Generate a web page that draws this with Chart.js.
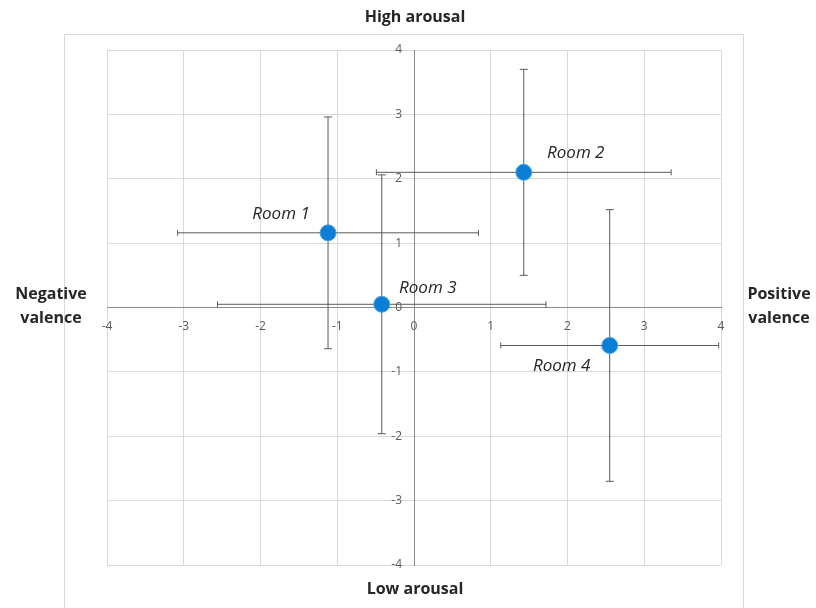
<!DOCTYPE html>
<html>
<head>
<meta charset="utf-8">
<script src="https://cdn.jsdelivr.net/npm/chart.js@4"></script>
<style>
  html, body { margin: 0; padding: 0; background: #fff; }
  #wrap { width: 816px; height: 608px; }
</style>
</head>
<body>
<div id="wrap"><canvas id="moodChart" width="816" height="608"></canvas></div>
<script>
// room means (valence, arousal) and error bar half-widths
const rooms = ['Room 1', 'Room 2', 'Room 3', 'Room 4'];
const valence = [-1.12, 1.43, -0.42, 2.55];
const arousal = [1.16, 2.10, 0.05, -0.59];
const valenceErr = [1.96, 1.92, 2.14, 1.42];
const arousalErr = [1.80, 1.60, 2.01, 2.11];
const tickValues = [-4, -3, -2, -1, 0, 1, 2, 3, 4];

// label offsets next to each point (pixels)
const labelOffsets = [[-47, -19], [52, -19], [46, -16], [-48, 21]];

const gridGrey = '#d9d9d9';
const axisGrey = '#8c8c8c';
const barGrey = '#595959';
const tickFont = '12px "Open Sans", sans-serif';

const errorBars = {
    id: 'errorBars',
    beforeDatasetsDraw(chart) {
        const ctx = chart.ctx;
        const xs = chart.scales.x, ys = chart.scales.y;
        ctx.save();
        ctx.strokeStyle = barGrey;
        ctx.lineWidth = 1;
        valence.forEach((v, i) => {
            const a = arousal[i];
            const cx = xs.getPixelForValue(v), cy = ys.getPixelForValue(a);
            const x0 = xs.getPixelForValue(v - valenceErr[i]);
            const x1 = xs.getPixelForValue(v + valenceErr[i]);
            const y0 = ys.getPixelForValue(a + arousalErr[i]);
            const y1 = ys.getPixelForValue(a - arousalErr[i]);
            ctx.beginPath();
            ctx.moveTo(x0, cy); ctx.lineTo(x1, cy);
            ctx.moveTo(x0, cy - 3); ctx.lineTo(x0, cy + 3);
            ctx.moveTo(x1, cy - 3); ctx.lineTo(x1, cy + 3);
            ctx.moveTo(cx, y0); ctx.lineTo(cx, y1);
            ctx.moveTo(cx - 4, y0); ctx.lineTo(cx + 4, y0);
            ctx.moveTo(cx - 4, y1); ctx.lineTo(cx + 4, y1);
            ctx.stroke();
        });

        // y tick labels, left of the vertical axis
        const axisX = xs.getPixelForValue(0);
        ctx.fillStyle = '#595959';
        ctx.font = tickFont;
        ctx.textAlign = 'right';
        ctx.textBaseline = 'middle';
        ys.ticks.forEach(t => {
            ctx.fillText(String(t.value), axisX - 12, ys.getPixelForValue(t.value));
        });
        ctx.restore();
    }
};

const annotations = {
    id: 'annotations',
    beforeDraw(chart) {
        const ctx = chart.ctx;
        ctx.save();
        ctx.fillStyle = '#fff';
        ctx.fillRect(0, 0, chart.width, chart.height);
        ctx.strokeStyle = gridGrey;
        ctx.lineWidth = 1;
        ctx.strokeRect(64.5, 34.5, 679, 590);
        ctx.restore();
    },
    afterDatasetsDraw(chart) {
        const ctx = chart.ctx;
        const xs = chart.scales.x, ys = chart.scales.y;
        ctx.save();
        ctx.fillStyle = '#262626';
        ctx.textAlign = 'center';
        ctx.textBaseline = 'middle';
        ctx.font = 'italic 17px "Open Sans", sans-serif';
        rooms.forEach((name, i) => {
            const px = xs.getPixelForValue(valence[i]) + labelOffsets[i][0];
            const py = ys.getPixelForValue(arousal[i]) + labelOffsets[i][1];
            ctx.fillText(name, px, py);
        });
        ctx.font = 'bold 16px "Open Sans", sans-serif';
        ctx.fillText('High arousal', 415, 17);
        ctx.fillText('Low arousal', 415, 589);
        ctx.fillText('Negative', 51, 294);
        ctx.fillText('valence', 51, 318);
        ctx.fillText('Positive', 779, 294);
        ctx.fillText('valence', 779, 318);
        ctx.restore();
    }
};

new Chart(document.getElementById('moodChart'), {
    type: 'scatter',
    data: {
        datasets: [{
            label: 'Rooms',
            data: valence.map((v, i) => ({ x: v, y: arousal[i] })),
            backgroundColor: '#0b7fd5',
            borderColor: '#4aa3e6',
            borderWidth: 1,
            pointRadius: 8,
            pointHoverRadius: 8
        }]
    },
    options: {
        responsive: false,
        animation: false,
        layout: { padding: { left: 107, right: 95, top: 50, bottom: 43 } },
        plugins: { legend: { display: false }, tooltip: { enabled: false } },
        scales: {
            x: {
                type: 'linear',
                position: { y: 0 },
                min: -4, max: 4,
                afterBuildTicks: s => { s.ticks = tickValues.map(v => ({ value: v })); },
                grid: { color: gridGrey, drawTicks: false },
                border: { color: axisGrey, width: 1 },
                ticks: { color: '#595959', font: { family: '"Open Sans", sans-serif', size: 12 }, padding: 12 }
            },
            y: {
                type: 'linear',
                position: { x: 0 },
                min: -4, max: 4,
                afterBuildTicks: s => { s.ticks = tickValues.map(v => ({ value: v })); },
                grid: { color: gridGrey, drawTicks: false },
                border: { color: axisGrey, width: 1 },
                ticks: { display: false }
            }
        }
    },
    plugins: [errorBars, annotations]
});
</script>
</body>
</html>
